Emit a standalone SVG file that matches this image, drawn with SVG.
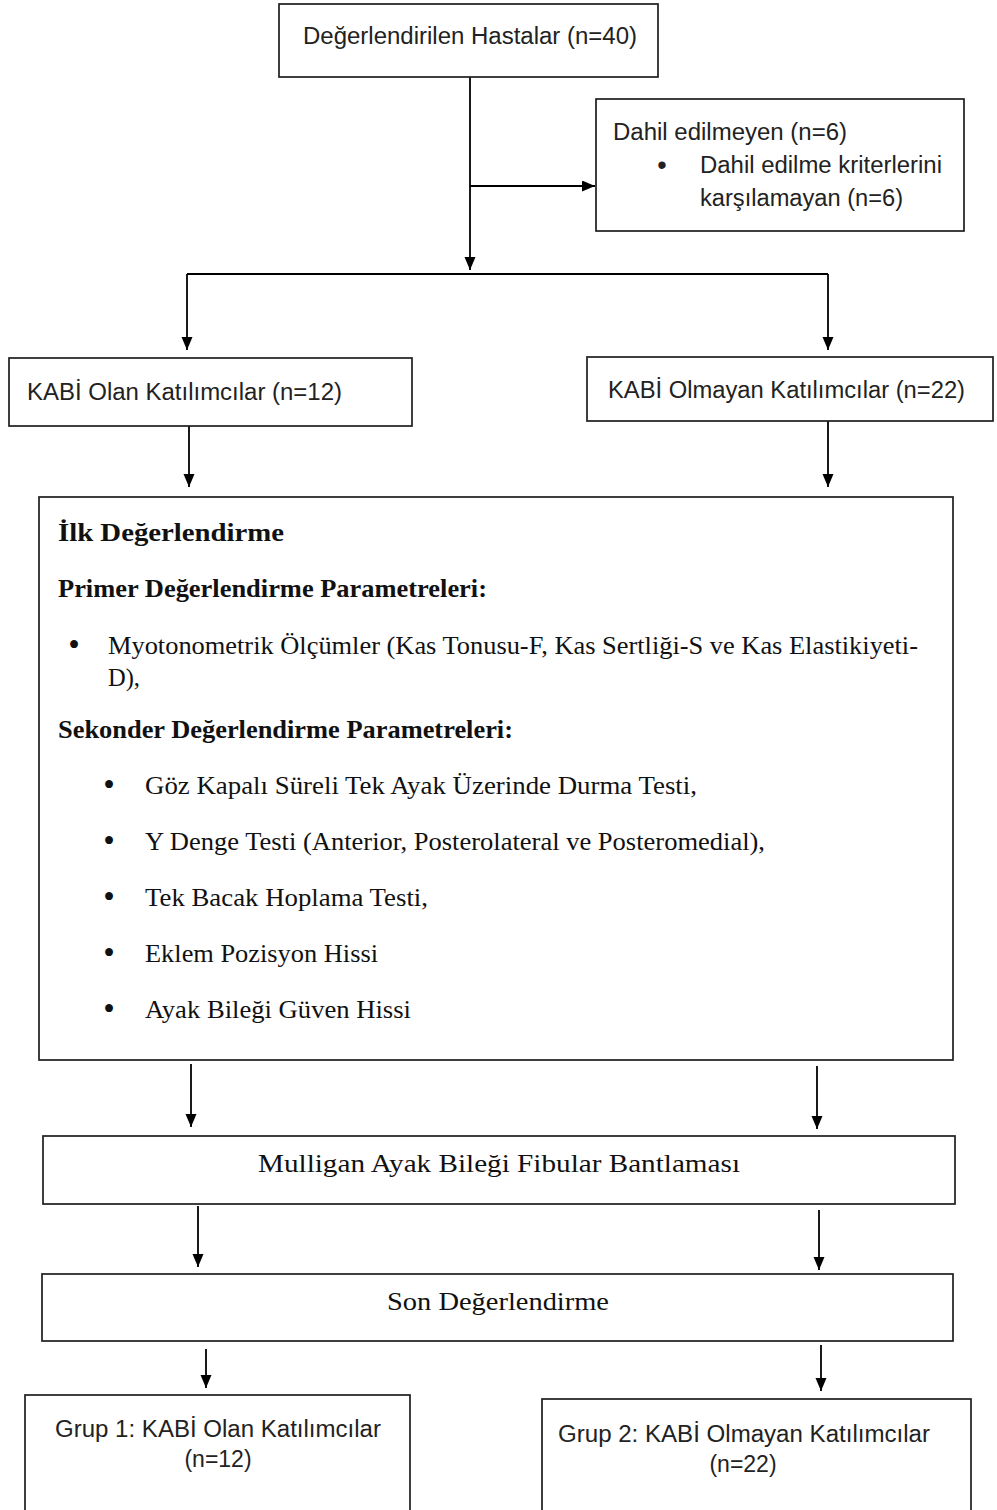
<svg xmlns="http://www.w3.org/2000/svg" width="997" height="1510" viewBox="0 0 997 1510">
<style>
.box{fill:#fff;stroke:#1e1e1e;stroke-width:1.7}
.sans{font-family:"Liberation Sans",Arial,sans-serif;font-size:23px;fill:#222}
.serif{font-family:"Liberation Serif","Times New Roman",serif;font-size:26px;fill:#111}
.b{font-weight:bold}
.mid{text-anchor:middle}
.bs{font-size:33px}
.bsa{font-size:27px}
.conn path{fill:none;stroke:#000;stroke-width:1.8}
.arr{marker-end:url(#ah)}
</style>
<defs>
<marker id="ah" markerUnits="userSpaceOnUse" markerWidth="14" markerHeight="12" refX="13" refY="5.5" orient="auto">
<path d="M0,0 L13,5.5 L0,11 z" fill="#000"/>
</marker>
</defs>
<rect width="997" height="1510" fill="#fff"/>
<g class="conn" id="connectors">
<path class="arr" d="M470,77 V270"/>
<path class="arr" d="M470,186 H595"/>
<path d="M187,274 H828"/>
<path class="arr" d="M187,274 V350"/>
<path class="arr" d="M828,274 V350"/>
<path class="arr" d="M189,426 V487"/>
<path class="arr" d="M828,421 V487"/>
<path class="arr" d="M191,1064 V1127"/>
<path class="arr" d="M817,1066 V1129"/>
<path class="arr" d="M198,1206 V1267"/>
<path class="arr" d="M819,1210 V1270"/>
<path class="arr" d="M206,1349 V1388"/>
<path class="arr" d="M821,1345 V1391"/>
</g>
<g id="n-hastalar">
<rect class="box" x="279" y="4" width="379" height="73"/>
<text class="sans" x="303" y="44" textLength="334" lengthAdjust="spacingAndGlyphs">Değerlendirilen Hastalar (n=40)</text>
</g>
<g id="n-dahil">
<rect class="box" x="596" y="99" width="368" height="132"/>
<text class="sans" x="613" y="140" textLength="234" lengthAdjust="spacingAndGlyphs">Dahil edilmeyen (n=6)</text>
<text class="sans bsa mid" x="662" y="174">•</text>
<text class="sans" x="700" y="173" textLength="242" lengthAdjust="spacingAndGlyphs">Dahil edilme kriterlerini</text>
<text class="sans" x="700" y="206" textLength="203" lengthAdjust="spacingAndGlyphs">karşılamayan (n=6)</text>
</g>
<g id="n-kabi-olan">
<rect class="box" x="9" y="358" width="403" height="68"/>
<text class="sans" x="27" y="400" textLength="315" lengthAdjust="spacingAndGlyphs">KABİ Olan Katılımcılar (n=12)</text>
</g>
<g id="n-kabi-olmayan">
<rect class="box" x="587" y="357" width="406" height="64"/>
<text class="sans" x="608" y="398" textLength="357" lengthAdjust="spacingAndGlyphs">KABİ Olmayan Katılımcılar (n=22)</text>
</g>
<g id="n-ilk">
<rect class="box" x="39" y="497" width="914" height="563"/>
<text class="serif b" x="58" y="541" textLength="226" lengthAdjust="spacingAndGlyphs">İlk Değerlendirme</text>
<text class="serif b" x="58" y="597" textLength="429" lengthAdjust="spacingAndGlyphs">Primer Değerlendirme Parametreleri:</text>
<text class="serif bs mid" x="74" y="656">•</text>
<text class="serif" x="108" y="654" textLength="810" lengthAdjust="spacingAndGlyphs">Myotonometrik Ölçümler (Kas Tonusu-F, Kas Sertliği-S ve Kas Elastikiyeti-</text>
<text class="serif" x="108" y="686" textLength="32" lengthAdjust="spacingAndGlyphs">D),</text>
<text class="serif b" x="58" y="738" textLength="455" lengthAdjust="spacingAndGlyphs">Sekonder Değerlendirme Parametreleri:</text>
<text class="serif bs mid" x="109" y="796">•</text>
<text class="serif" x="145" y="794" textLength="552" lengthAdjust="spacingAndGlyphs">Göz Kapalı Süreli Tek Ayak Üzerinde Durma Testi,</text>
<text class="serif bs mid" x="109" y="852">•</text>
<text class="serif" x="145" y="850" textLength="620" lengthAdjust="spacingAndGlyphs">Y Denge Testi (Anterior, Posterolateral ve Posteromedial),</text>
<text class="serif bs mid" x="109" y="908">•</text>
<text class="serif" x="145" y="906" textLength="283" lengthAdjust="spacingAndGlyphs">Tek Bacak Hoplama Testi,</text>
<text class="serif bs mid" x="109" y="964">•</text>
<text class="serif" x="145" y="962" textLength="233" lengthAdjust="spacingAndGlyphs">Eklem Pozisyon Hissi</text>
<text class="serif bs mid" x="109" y="1020">•</text>
<text class="serif" x="145" y="1018" textLength="266" lengthAdjust="spacingAndGlyphs">Ayak Bileği Güven Hissi</text>
</g>
<g id="n-mulligan">
<rect class="box" x="43" y="1136" width="912" height="68"/>
<text class="serif" x="258" y="1172" textLength="482" lengthAdjust="spacingAndGlyphs">Mulligan Ayak Bileği Fibular Bantlaması</text>
</g>
<g id="n-son">
<rect class="box" x="42" y="1274" width="911" height="67"/>
<text class="serif" x="387" y="1310" textLength="222" lengthAdjust="spacingAndGlyphs">Son Değerlendirme</text>
</g>
<g id="n-grup1">
<rect class="box" x="25" y="1395" width="385" height="130"/>
<text class="sans" x="55" y="1437" textLength="326" lengthAdjust="spacingAndGlyphs">Grup 1: KABİ Olan Katılımcılar</text>
<text class="sans mid" x="218" y="1467">(n=12)</text>
</g>
<g id="n-grup2">
<rect class="box" x="542" y="1399" width="429" height="130"/>
<text class="sans" x="558" y="1442" textLength="372" lengthAdjust="spacingAndGlyphs">Grup 2: KABİ Olmayan Katılımcılar</text>
<text class="sans mid" x="743" y="1472">(n=22)</text>
</g>
</svg>
